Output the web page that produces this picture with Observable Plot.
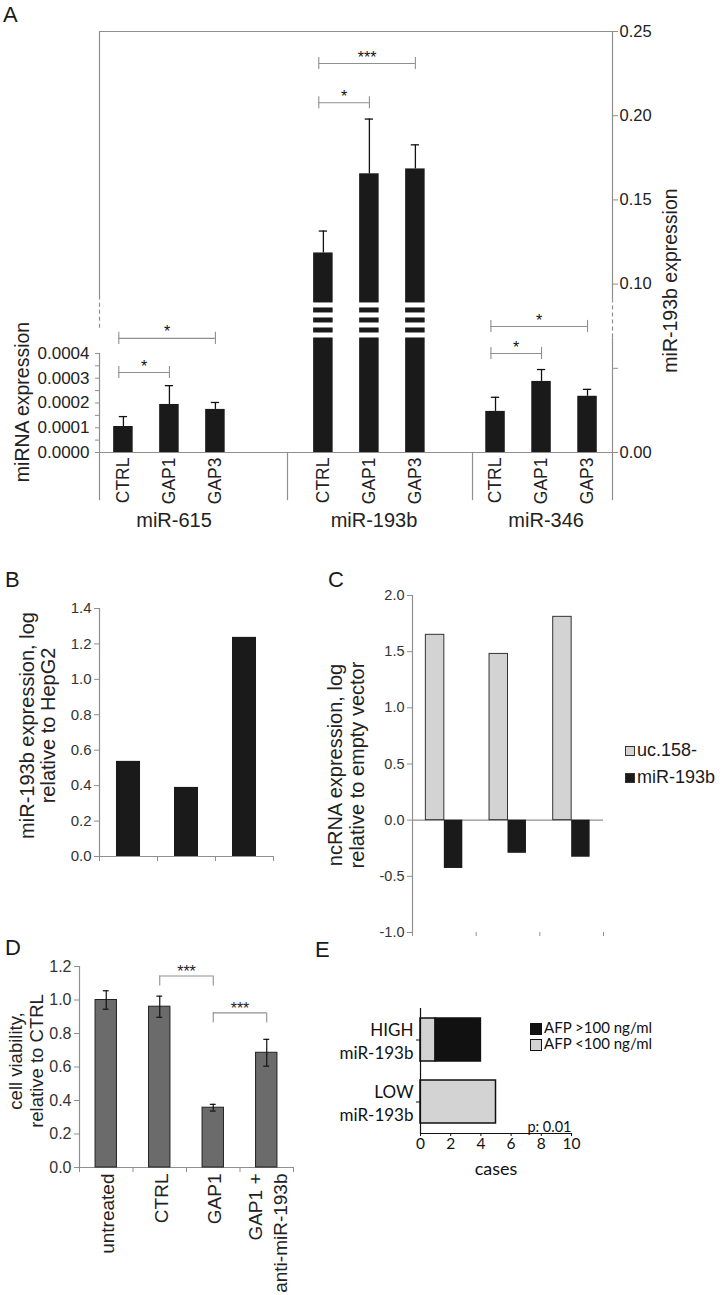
<!DOCTYPE html>
<html><head><meta charset="utf-8">
<script src="https://cdn.jsdelivr.net/npm/d3@7"></script>
<script src="https://cdn.jsdelivr.net/npm/@observablehq/plot@0.6"></script>
<style>
html,body{margin:0;padding:0;background:#fff;}
#fig{position:relative;width:723px;height:1295px;overflow:hidden;font-family:"Liberation Sans",Arial,sans-serif;color:#1a1a1a;background:#fff;}
.panel{position:absolute;}
.letter{position:absolute;font-size:22px;line-height:22px;font-family:"Liberation Sans",Arial,sans-serif;}
.legend{position:absolute;white-space:nowrap;}
.sw{display:inline-block;box-sizing:border-box;vertical-align:middle;}
</style></head><body><div id="fig"></div>
<script>
// ---------- DATA ----------
// Panel A
const aGroups = ["miR-615", "miR-193b", "miR-346"];
const aConds = ["CTRL", "GAP1", "GAP3"];
const a615Mean = [0.000105, 0.000194, 0.000174];
const a615ErrTop = [0.000145, 0.00027, 0.000202];
const a193bMean = [0.1185, 0.1655, 0.1684];
const a193bErrTop = [0.1315, 0.198, 0.1827];
const a346Mean = [0.000166, 0.000287, 0.000227];
const a346ErrTop = [0.000223, 0.000335, 0.000255];
const aLeftTicks = [0, 0.0001, 0.0002, 0.0003, 0.0004];
const aLeftMinor = [0.00005, 0.00015, 0.00025, 0.00035];
const aRightTicks = [0, 0.05, 0.10, 0.15, 0.20, 0.25];
const aSigGroup = ["miR-615", "miR-615", "miR-193b", "miR-193b", "miR-346", "miR-346"];
const aSigFrom = ["CTRL", "CTRL", "CTRL", "CTRL", "CTRL", "CTRL"];
const aSigTo = ["GAP1", "GAP3", "GAP1", "GAP3", "GAP1", "GAP3"];
const aSigLabel = ["*", "*", "*", "***", "*", "*"];
const aSigHeight = [0.000323, 0.000461, 0.2077, 0.231, 0.0004, 0.000509];
// Panel B
const bSamples = ["1", "2", "3"];
const bValues = [0.537, 0.39, 1.237];
const bTicks = [0, 0.2, 0.4, 0.6, 0.8, 1.0, 1.2, 1.4];
// Panel C
const cSeries = ["uc.158-", "miR-193b"];
const cUc158 = [1.65, 1.48, 1.81];
const cMir193b = [-0.43, -0.295, -0.33];
const cTicks = [-1, -0.5, 0, 0.5, 1, 1.5, 2];
// Panel D
const dConds = ["untreated", "CTRL", "GAP1", "GAP1 +\nanti-miR-193b"];
const dValues = [1.0, 0.96, 0.357, 0.685];
const dErr = [0.055, 0.063, 0.02, 0.08];
const dTicks = [0, 0.2, 0.4, 0.6, 0.8, 1.0, 1.2];
const dSigFrom = ["CTRL", "GAP1"];
const dSigTo = ["GAP1", "GAP1 +\nanti-miR-193b"];
const dSigLabel = ["***", "***"];
const dSigHeight = [1.143, 0.923];
// Panel E
const eCats = ["HIGH", "LOW"];
const eSeries = ["AFP <100 ng/ml", "AFP >100 ng/ml"];
const eBelow100 = [1, 5];
const eAbove100 = [3, 0];
const eTicks = [0, 2, 4, 6, 8, 10];

// ---------- LAYOUT ----------
const fig = document.getElementById("fig");
const gray = "#8f8f8f";
const ink = "#1a1a1a";
const baseStyle = {fontFamily: "Liberation Sans, Arial, sans-serif", fontSize: "16px", color: "#222", background: "transparent", overflow: "visible"};

function place(node, left, top) {
  node.classList.add("panel");
  node.style.left = left + "px";
  node.style.top = top + "px";
  fig.appendChild(node);
}
function letter(t, left, top) {
  const d = document.createElement("div");
  d.className = "letter"; d.textContent = t;
  d.style.left = left + "px"; d.style.top = top + "px";
  fig.appendChild(d);
}

try {
// ===== Panel A =====
const leftMax = 0.0017;            // left-axis value at the top of the frame
const kA = 0.25 / leftMax;         // left units -> right units
const groupWidth = [4.087, 4.022, 3.043];
const groupInset = [0.52, 0.78, 0.5];
const gStart = [0];
groupWidth.forEach((w, i) => gStart.push(gStart[i] + w));
const xMaxA = gStart[3];
const barHalf = 0.212;
const means = {"miR-615": a615Mean, "miR-193b": a193bMean, "miR-346": a346Mean};
const tops = {"miR-615": a615ErrTop, "miR-193b": a193bErrTop, "miR-346": a346ErrTop};
const unit = g => (g === "miR-193b" ? 1 : kA);
const posOf = (g, c) => { const gi = aGroups.indexOf(g); return gStart[gi] + groupInset[gi] + aConds.indexOf(c); };
const rowsA = aGroups.flatMap(g => aConds.map((c, ci) => ({
  group: g, cond: c, pos: posOf(g, c), v: means[g][ci] * unit(g), top: tops[g][ci] * unit(g)
})));
const brkLo = 0.068, brkHi = 0.0888, nSlices = 7, sliceH = (brkHi - brkLo) / nSlices;
const stripes = rowsA.filter(d => d.group === "miR-193b").flatMap(d =>
  d3.range(0, nSlices, 2).map(i => ({pos: d.pos, y2: brkHi - i * sliceH, y1: brkHi - (i + 1) * sliceH})));
const sigA = aSigGroup.map((g, i) => {
  const x1 = posOf(g, aSigFrom[i]) - 0.1, x2 = posOf(g, aSigTo[i]);
  return {x1, x2, mid: (x1 + x2) / 2, h: aSigHeight[i] * unit(g), label: aSigLabel[i]};
});
const sigEndsA = sigA.flatMap(d => [{x: d.x1, h: d.h}, {x: d.x2, h: d.h}]);
const below = -0.0286;
const solidSegs = [
  {x: 0, y1: 0, y2: 0.0004 * kA}, {x: 0, y1: 0.0905, y2: 0.25},
  {x: xMaxA, y1: below, y2: brkLo}, {x: xMaxA, y1: 0.0905, y2: 0.25},
  {x: 0, y1: below, y2: 0}, {x: gStart[1], y1: below, y2: 0}, {x: gStart[2], y1: below, y2: 0}
];
const dashSegs = [{x: 0, y1: 0.0738, y2: 0.0905}, {x: xMaxA, y1: brkLo, y2: 0.0905}];
const groupLabels = aGroups.map(g => ({g, pos: posOf(g, "GAP1") + 0.1}));

const plotA = Plot.plot({
  width: 723, height: 540, marginLeft: 99, marginRight: 111, marginTop: 31, marginBottom: 88,
  style: baseStyle,
  x: {domain: [0, xMaxA], axis: null},
  y: {domain: [0, 0.25]},
  marks: [
    Plot.ruleY([0.25], {x1: 0, x2: xMaxA, stroke: gray, strokeWidth: 1.2}),
    Plot.ruleY([0], {x1: 0, x2: xMaxA, stroke: gray, strokeWidth: 1.2}),
    Plot.ruleX(solidSegs, {x: "x", y1: "y1", y2: "y2", stroke: gray, strokeWidth: 1.2}),
    Plot.ruleX(dashSegs, {x: "x", y1: "y1", y2: "y2", stroke: gray, strokeWidth: 1.2, strokeDasharray: "4,3"}),
    Plot.rect(rowsA, {x1: d => d.pos - barHalf, x2: d => d.pos + barHalf, y1: 0, y2: "v", fill: ink}),
    Plot.rect(stripes, {x1: d => d.pos - barHalf - 0.01, x2: d => d.pos + barHalf + 0.01, y1: "y1", y2: "y2", fill: "white"}),
    Plot.ruleX(rowsA, {x: "pos", y1: "v", y2: "top", stroke: "#111", strokeWidth: 1.3}),
    Plot.ruleY(rowsA, {y: "top", x1: d => d.pos - 0.09, x2: d => d.pos + 0.09, stroke: "#111", strokeWidth: 1.3}),
    Plot.ruleY(sigA, {y: "h", x1: "x1", x2: "x2", stroke: gray, strokeWidth: 1.1}),
    Plot.ruleX(sigEndsA, {x: "x", y1: d => d.h - 0.0036, y2: d => d.h + 0.0036, stroke: gray, strokeWidth: 1.1}),
    Plot.text(sigA, {x: "mid", y: "h", text: "label", dy: -6, fontSize: 16, fill: "#111"}),
    Plot.axisY({anchor: "left", ticks: aLeftMinor.map(v => v * kA), tickFormat: () => "", tickSize: 4, stroke: gray, label: null}),
    Plot.axisY({anchor: "left", ticks: aLeftTicks.map(v => v * kA), tickFormat: d => (d / kA).toFixed(4), tickSize: 4, tickPadding: 6, fontSize: 17, stroke: gray, label: null}),
    Plot.axisY({anchor: "right", ticks: aRightTicks, tickFormat: d => (Math.abs(d - 0.05) < 1e-9 ? "" : d.toFixed(2)), tickSize: 5, tickPadding: 2, fontSize: 16.5, stroke: gray, label: null}),
    Plot.text(rowsA, {x: "pos", y: 0, text: "cond", rotate: -90, textAnchor: "end", dy: 5, fontSize: 17.5}),
    Plot.text(groupLabels, {x: "pos", y: 0, text: "g", dy: 68, fontSize: 20}),
    Plot.text(["miRNA expression"], {frameAnchor: "left", textAnchor: "middle", lineAnchor: "middle", rotate: -90, dx: -77, dy: 160, fontSize: 19.5}),
    Plot.text(["miR-193b expression"], {frameAnchor: "right", textAnchor: "middle", lineAnchor: "middle", rotate: -90, dx: 58, dy: 38.5, fontSize: 19.5})
  ]
});
place(plotA, 0, 0);

// ===== Panel B =====
const rowsB = bSamples.map((s, i) => ({s, i, v: bValues[i]}));
const plotB = Plot.plot({
  width: 330, height: 330, marginLeft: 99, marginRight: 57, marginTop: 48, marginBottom: 34,
  style: baseStyle,
  x: {domain: [0, 3]}, y: {domain: [0, 1.4]},
  marks: [
    Plot.ruleX([0], {y1: 0, y2: 1.4, stroke: gray, strokeWidth: 1.2}),
    Plot.ruleY([0], {x1: 0, x2: 3, stroke: gray, strokeWidth: 1.2}),
    Plot.rect(rowsB, {x1: d => d.i + 0.5 - 0.207, x2: d => d.i + 0.5 + 0.207, y1: 0, y2: "v", fill: ink}),
    Plot.axisY({ticks: bTicks, tickFormat: d => d.toFixed(1), tickSize: 5, tickPadding: 3, fontSize: 15, stroke: gray, fill: "#333", label: null}),
    Plot.axisX({ticks: [0, 1, 2, 3], tickFormat: () => "", tickSize: 5, stroke: gray, label: null}),
    Plot.text(["miR-193b expression, log\nrelative to HepG2"], {frameAnchor: "left", textAnchor: "middle", lineAnchor: "middle", rotate: -90, dx: -61.5, dy: -7, fontSize: 20, lineHeight: 1.05})
  ]
});
place(plotB, 0, 560);

// ===== Panel C =====
const bwC = 0.29;
const rowsC = cUc158.flatMap((v, i) => [
  {series: cSeries[0], i, x1: i + 0.5 - bwC, x2: i + 0.5, v},
  {series: cSeries[1], i, x1: i + 0.5, x2: i + 0.5 + bwC, v: cMir193b[i]}
]);
const plotC = Plot.plot({
  width: 393, height: 400, marginLeft: 82, marginRight: 120, marginTop: 35, marginBottom: 28,
  style: baseStyle,
  x: {domain: [0, 3]}, y: {domain: [-1, 2]},
  marks: [
    Plot.ruleX([0], {y1: -1, y2: 2, stroke: gray, strokeWidth: 1.2}),
    Plot.ruleY([0], {x1: 0, x2: 3, stroke: gray, strokeWidth: 1.2}),
    Plot.rect(rowsC.filter(d => d.series === cSeries[0]), {x1: "x1", x2: "x2", y1: 0, y2: "v", fill: "#d3d3d3", stroke: "#333", strokeWidth: 1}),
    Plot.rect(rowsC.filter(d => d.series === cSeries[1]), {x1: "x1", x2: "x2", y1: 0, y2: "v", fill: ink}),
    Plot.axisY({ticks: cTicks, tickFormat: d => d.toFixed(1), tickSize: 5, tickPadding: 3, fontSize: 14.5, stroke: gray, fill: "#333", label: null}),
    Plot.axisX({ticks: [0, 1, 2, 3], tickFormat: () => "", tickSize: 4, stroke: gray, label: null}),
    Plot.text(["ncRNA expression, log\nrelative to empty vector"], {frameAnchor: "left", textAnchor: "middle", lineAnchor: "middle", rotate: -90, dx: -66.5, dy: 1, fontSize: 20, lineHeight: 1.1})
  ]
});
place(plotC, 330, 560);
const legC = document.createElement("div");
legC.className = "legend";
legC.style.cssText += "left:625px;top:737px;font-size:18px;line-height:27px;";
legC.innerHTML = cSeries.map((s, i) =>
  `<div><span class="sw" style="width:10px;height:10px;margin-right:2px;background:${i === 0 ? "#d3d3d3" : ink};border:1px solid #333"></span>${s}</div>`).join("");
fig.appendChild(legC);

// ===== Panel D =====
const hwD = 0.2;
const rowsD = dConds.map((c, i) => ({c, pos: i + 0.5, v: dValues[i], e: dErr[i]}));
const posD = c => dConds.indexOf(c) + 0.5;
const sigD = dSigFrom.map((f, i) => ({x1: posD(f), x2: posD(dSigTo[i]), h: dSigHeight[i], label: dSigLabel[i]}));
const sigEndsD = sigD.flatMap(d => [{x: d.x1, h: d.h}, {x: d.x2, h: d.h}]);
const plotD = Plot.plot({
  width: 330, height: 365, marginLeft: 79, marginRight: 37, marginTop: 36, marginBottom: 128,
  style: baseStyle,
  x: {domain: [0, 4]}, y: {domain: [0, 1.2]},
  marks: [
    Plot.ruleX([0], {y1: 0, y2: 1.2, stroke: gray, strokeWidth: 1.2}),
    Plot.ruleY([0], {x1: 0, x2: 4, stroke: gray, strokeWidth: 1.2}),
    Plot.rect(rowsD, {x1: d => d.pos - hwD, x2: d => d.pos + hwD, y1: 0, y2: "v", fill: "#6b6b6b", stroke: "#222", strokeWidth: 1}),
    Plot.ruleX(rowsD, {x: "pos", y1: d => d.v - d.e, y2: d => d.v + d.e, stroke: "#111", strokeWidth: 1.2}),
    Plot.ruleY(rowsD, {y: d => d.v + d.e, x1: d => d.pos - 0.055, x2: d => d.pos + 0.055, stroke: "#111", strokeWidth: 1.2}),
    Plot.ruleY(rowsD, {y: d => d.v - d.e, x1: d => d.pos - 0.055, x2: d => d.pos + 0.055, stroke: "#111", strokeWidth: 1.2}),
    Plot.ruleY(sigD, {y: "h", x1: "x1", x2: "x2", stroke: gray, strokeWidth: 1.1}),
    Plot.ruleX(sigEndsD, {x: "x", y1: d => d.h - 0.06, y2: "h", stroke: gray, strokeWidth: 1.1}),
    Plot.text(sigD, {x: d => (d.x1 + d.x2) / 2, y: "h", text: "label", dy: -4, fontSize: 16}),
    Plot.axisY({ticks: dTicks, tickFormat: d => d.toFixed(1), tickSize: 5, tickPadding: 3, fontSize: 16, stroke: gray, fill: "#333", label: null}),
    Plot.axisX({ticks: [0, 1, 2, 3, 4], tickFormat: () => "", tickSize: 5, stroke: gray, label: null}),
    Plot.text(rowsD, {x: "pos", y: 0, text: "c", rotate: -90, textAnchor: "end", dy: 6, fontSize: 19, lineHeight: 1.3}),
    Plot.text(["cell viability,\nrelative to CTRL"], {frameAnchor: "left", textAnchor: "middle", lineAnchor: "middle", rotate: -90, dx: -53.5, dy: -6, fontSize: 18.5, lineHeight: 1.15})
  ]
});
place(plotD, 0, 930);

// ===== Panel E =====
const rowsE = eCats.flatMap((c, i) => [
  {cat: c, series: eSeries[0], n: eBelow100[i]},
  {cat: c, series: eSeries[1], n: eAbove100[i]}
]).filter(d => d.n > 0);
const eStyle = Object.assign({}, baseStyle, {fontFamily: "Lato, Open Sans, sans-serif", color: "#111"});
const plotE = Plot.plot({
  width: 393, height: 200, marginLeft: 90, marginRight: 152, marginTop: 18, marginBottom: 57,
  style: eStyle,
  x: {domain: [0, 10]},
  y: {type: "band", domain: eCats, paddingInner: 0.31, paddingOuter: 0.155},
  color: {domain: eSeries, range: ["#d3d3d3", "#111"]},
  marks: [
    Plot.barX(rowsE, {x: "n", y: "cat", fill: "series", stroke: "#111", strokeWidth: 1.5}),
    Plot.ruleX([0], {stroke: "#111", strokeWidth: 1.2}),
    Plot.frame({anchor: "bottom", stroke: "#111", strokeWidth: 1.2}),
    Plot.axisX({ticks: eTicks, tickSize: 3, tickPadding: 1, fontSize: 15.5, label: null}),
    Plot.axisY({tickFormat: d => d + "\nmiR-193b", tickSize: 4, tickPadding: 3, fontSize: 17, lineHeight: 1.35, label: null}),
    Plot.text(["p: 0.01"], {frameAnchor: "bottom-right", textAnchor: "end", lineAnchor: "bottom", dy: -2, fontSize: 14.5}),
    Plot.text(["cases"], {frameAnchor: "bottom", textAnchor: "middle", lineAnchor: "middle", dy: 36, fontSize: 18})
  ]
});
place(plotE, 330, 990);
const legE = document.createElement("div");
legE.className = "legend";
legE.style.cssText += "left:530px;top:1019px;font-size:15px;line-height:16px;font-family:Lato,'Open Sans',sans-serif;color:#111;";
legE.innerHTML = [eSeries[1], eSeries[0]].map(s =>
  `<div><span class="sw" style="width:12px;height:12px;margin-right:2px;background:${s === eSeries[1] ? "#111" : "#d3d3d3"};border:1.5px solid #111"></span>${s.replace("<", "&lt;").replace(">", "&gt;")}</div>`).join("");
fig.appendChild(legE);

// Panel letters
letter("A", 3, 4);
letter("B", 5, 569);
letter("C", 328, 569);
letter("D", 5, 937);
letter("E", 315, 939);
} catch (err) {
  const pre = document.createElement("pre"); pre.textContent = err.stack || String(err); fig.appendChild(pre);
}
</script>
</body></html>
